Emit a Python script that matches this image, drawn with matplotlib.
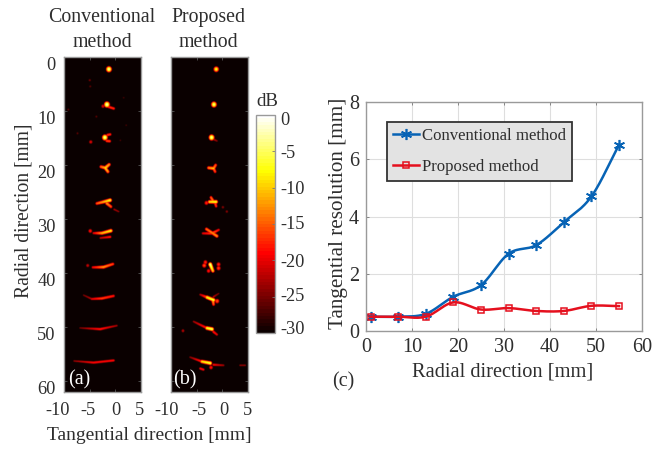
import numpy as np
import matplotlib
matplotlib.use("Agg")
import matplotlib.pyplot as plt
from matplotlib.transforms import ScaledTranslation

plt.rcParams['font.family'] = ['Liberation Serif', 'DejaVu Serif']
plt.rcParams['axes.unicode_minus'] = False

W, H = 668, 449
TXT = '#2e2e2e'
FRAME = '#9a9a9a'
FS = 13.2

# ---- data ----
radial = [1, 7, 13, 19, 25, 31, 37, 43, 49, 55]
res_conventional = [0.5, 0.5, 0.6, 1.2, 1.6, 2.7, 3.0, 3.8, 4.7, 6.5]
res_proposed = [0.5, 0.5, 0.5, 1.0, 0.75, 0.8, 0.7, 0.7, 0.88, 0.87]

# echo strokes: tangential0, radial0, tangential1, radial1, peak dB (start, end)
echo_conventional = [
    (-1.24, 2.22, -1.24, 2.22, (-3, -3)),
    (-1.63, 8.76, -1.63, 8.76, (-2, -2)), (-1.3, 9.2, -0.3, 9.5, (-17, -17)), (-2.4, 9.07, -2.4, 9.07, (-20, -20)),
    (-2.03, 14.87, -2.03, 14.87, (-3, -3)), (-1.5, 14.4, -1.0, 14.3, (-17, -17)), (-1.64, 15.5, -1.1, 15.55, (-16, -16)),
    (-4.8, 15.7, -4.8, 15.7, (-20, -20)),
    (-2.8, 20.3, -1.96, 20.5, (-14, -10)), (-1.96, 20.5, -1.2, 19.9, (-9, -12)), (-1.96, 20.5, -1.44, 21.2, (-9, -12)),
    (-3.6, 27.1, -1.0, 26.5, (-15, -7)), (-1.64, 27.1, -0.85, 27.7, (-12, -15)), (-0.2, 28.2, 0.65, 28.6, (-23, -24)),
    (-4.25, 32.6, -2.6, 32.6, (-20, -11)), (-2.6, 32.6, -0.85, 32.16, (-11, -8)), (-4.9, 32.2, -4.9, 32.2, (-18, -18)),
    (-2.9, 33.5, -1.0, 33.3, (-22, -18)),
    (-4.4, 38.95, -2.3, 38.9, (-19, -12)), (-2.3, 38.9, -0.46, 38.33, (-12, -16)), (-5.4, 38.6, -5.4, 38.6, (-21, -21)),
    (-4.6, 44.8, -2.6, 44.7, (-20, -16)), (-2.6, 44.7, -0.33, 44.25, (-16, -18)), (-6.2, 44.1, -4.6, 44.8, (-25, -22)),
    (-6.9, 50.18, -2.95, 50.4, (-25, -18)), (-2.95, 50.4, 0.3, 49.75, (-18, -23)),
    (-8.05, 56.3, -4.25, 56.6, (-24, -19)), (-4.25, 56.6, -0.33, 56.2, (-19, -19)),
    (-5.0, 4.25, -5.0, 4.25, (-25, -25)), (-4.9, 5.4, -4.9, 5.4, (-26, -26)), (-9.2, 9.7, -9.2, 9.7, (-26, -26)),
    (1.65, 7.5, 1.65, 7.5, (-27, -27)), (-7.4, 14.1, -7.4, 14.1, (-26, -26)), (-3.7, 11.0, -3.7, 11.0, (-26, -26)),
    (2.15, 12.6, 2.15, 12.6, (-27, -27)), (1.0, 15.4, 1.0, 15.4, (-27, -27)),
]
echo_proposed = [
    (-1.18, 2.22, -1.18, 2.22, (-7, -7)),
    (-1.63, 8.76, -1.63, 8.76, (-4, -4)),
    (-2.09, 14.87, -2.09, 14.87, (-3, -3)), (-1.7, 15.2, -1.05, 15.5, (-22, -24)),
    (-2.68, 20.5, -1.7, 20.6, (-13, -10)), (-1.7, 20.6, -1.3, 20.0, (-12, -15)), (-1.7, 20.6, -1.4, 21.2, (-13, -16)),
    (-2.5, 26.8, -1.2, 26.8, (-9, -7)), (-2.2, 26.0, -1.7, 26.8, (-15, -12)), (-3.1, 27.0, -3.1, 27.0, (-17, -17)),
    (-1.37, 27.1, -1.2, 27.6, (-16, -17)), (0.13, 27.8, 0.13, 27.8, (-24, -24)), (0.9, 28.6, 0.9, 28.6, (-24, -24)),
    (-3.1, 31.85, -1.05, 33.14, (-14, -12)), (-3.8, 32.65, -2.0, 32.65, (-20, -16)), (-1.7, 32.5, -0.7, 32.0, (-15, -19)),
    (-2.35, 38.4, -1.83, 39.6, (-3, -10)), (-3.53, 38.6, -3.53, 38.6, (-15, -15)), (-0.72, 38.4, -0.72, 38.4, (-17, -17)),
    (-0.72, 39.1, -0.72, 39.1, (-16, -16)), (-2.68, 39.6, -2.68, 39.6, (-18, -18)), (-3.3, 38.0, -3.3, 38.0, (-17, -17)),
    (-3.0, 44.5, -1.7, 45.0, (-8, -6)), (-1.83, 45.0, -1.7, 45.8, (-10, -15)), (-4.3, 44.0, -3.0, 44.5, (-22, -14)),
    (-1.0, 45.2, -1.0, 45.2, (-15, -15)), (-1.7, 44.4, -0.7, 43.8, (-22, -25)),
    (-3.0, 50.2, -2.0, 50.4, (-7, -5)), (-5.6, 49.0, -3.0, 50.2, (-23, -17)), (-1.7, 50.9, -1.05, 51.4, (-18, -20)),
    (-7.7, 50.7, -7.7, 50.7, (-22, -22)),
    (-4.0, 56.4, -2.35, 56.7, (-9, -6)), (-6.3, 55.6, -4.0, 56.4, (-24, -17)), (-1.7, 57.0, 0.25, 57.1, (-19, -23)),
    (-4.3, 57.7, -3.7, 57.9, (-19, -19)), (-2.2, 57.5, -2.2, 57.5, (-18, -18)), (3.5, 57.1, 4.5, 57.1, (-24, -24)),
    (-7.9, 58.2, -7.9, 58.2, (-27, -27)),
]

tang_ticks = [-10, -5, 0, 5]
rad_ticks = [0, 10, 20, 30, 40, 50, 60]
cbar_ticks = [0, -5, -10, -15, -20, -25, -30]


def rect(x0, y0, x1, y1):
    return [x0 / W, 1 - y1 / H, (x1 - x0) / W, (y1 - y0) / H]


def fx(x):
    return x / W


def fy(y):
    return 1 - y / H


def shift(label, fig, dx=0, dy=0):
    label.set_transform(label.get_transform() + ScaledTranslation(dx / fig.dpi, -dy / fig.dpi, fig.dpi_scale_trans))


def render(strokes, xlim=(-10, 5), ylim=(0, 62), step=0.1, k=120.0, k_dot=60.0):
    xs = np.arange(xlim[0], xlim[1] + step, step)
    ys = np.arange(ylim[0], ylim[1] + step, step)
    X, Y = np.meshgrid(xs, ys)
    img = np.full(X.shape, -30.0)
    for x0, y0, x1, y1, (p0, p1) in strokes:
        dx, dy = x1 - x0, y1 - y0
        L2 = dx * dx + dy * dy
        t = np.zeros_like(X) if L2 == 0 else np.clip(((X - x0) * dx + (Y - y0) * dy) / L2, 0, 1)
        d2 = (X - x0 - t * dx) ** 2 + (Y - y0 - t * dy) ** 2
        img = np.maximum(img, p0 + (p1 - p0) * t - (k_dot if L2 == 0 else k) * d2)
    return img


def smooth(x, y, n=24):
    # Catmull-Rom curve through the read points; returns marker indices too
    x = np.asarray(x, float)
    y = np.asarray(y, float)
    px = np.r_[2 * x[0] - x[1], x, 2 * x[-1] - x[-2]]
    py = np.r_[2 * y[0] - y[1], y, 2 * y[-1] - y[-2]]
    ox, oy = [], []
    for i in range(1, len(px) - 2):
        for u in np.linspace(0, 1, n, endpoint=False):
            for arr, out in ((px, ox), (py, oy)):
                a, b, c, d = arr[i - 1:i + 3]
                out.append(0.5 * (2 * b + (c - a) * u + (2 * a - 5 * b + 4 * c - d) * u ** 2
                                  + (3 * b - a - 3 * c + d) * u ** 3))
    ox.append(x[-1])
    oy.append(y[-1])
    return np.array(ox), np.array(oy), list(range(0, len(ox), n))


fig = plt.figure(figsize=(W / 100, H / 100), dpi=100)
cmap = plt.get_cmap('hot', 64)

# ---- image panels ----
xtick_shift = [[-6, -1.5, 1, -1], [-4, 2.5, 2, -0.5]]
for k, (x0, strokes, tag) in enumerate(((64, echo_conventional, '(a)'), (171, echo_proposed, '(b)'))):
    ax = fig.add_axes(rect(x0, 57, x0 + 76.5, 392))
    im = ax.imshow(render(strokes), cmap=cmap, vmin=-30, vmax=0, extent=(-10, 5, 62, 0),
                   aspect='auto', interpolation='bilinear')
    ax.set_xticks(tang_ticks)
    ax.set_yticks(rad_ticks)
    ax.tick_params(direction='in', length=2.5, width=0.6, color='#555555',
                   top=True, right=True, labelsize=FS, labelcolor=TXT, pad=7)
    ax.tick_params(axis='y', pad=6)
    if k == 1:
        ax.set_yticklabels([])
    else:
        for lab in ax.get_yticklabels():
            shift(lab, fig, 0, 6)
    for lab, dx in zip(ax.get_xticklabels(), xtick_shift[k]):
        shift(lab, fig, dx, 0)
    for s in ax.spines.values():
        s.set_color(FRAME)
        s.set_linewidth(1.0)
    fig.text(fx(x0 + 15 if k == 0 else x0 + 14), fy(380), tag, color='white', fontsize=14.5,
             ha='center', va='center')

fig.text(fx(102), fy(30), 'Conventional\nmethod', ha='center', va='center', fontsize=14.3,
         color=TXT, linespacing=1.37)
fig.text(fx(208), fy(30), 'Proposed\nmethod', ha='center', va='center', fontsize=14.3,
         color=TXT, linespacing=1.37)
fig.text(fx(149), fy(436), 'Tangential direction [mm]', ha='center', va='center', fontsize=14, color=TXT)
fig.text(fx(24), fy(211), 'Radial direction [mm]', ha='center', va='center', rotation=90,
         fontsize=14.1, color=TXT)

# ---- colour bar ----
cax = fig.add_axes(rect(256, 115, 275, 333))
cb = fig.colorbar(im, cax=cax, ticks=cbar_ticks)
cb.ax.tick_params(direction='in', length=2.5, width=0.6, color='#777777', labelsize=FS, labelcolor=TXT, pad=4)
cb.outline.set_edgecolor(FRAME)
cb.outline.set_linewidth(1.0)
for lab, dy in zip(cb.ax.get_yticklabels(), [3, 0, 0, -2, 0, -2, -5]):
    shift(lab, fig, 0, dy)
fig.text(fx(267), fy(102), 'dB', ha='center', va='center', fontsize=13.6, color=TXT)

# ---- resolution panel ----
ax = fig.add_axes(rect(366, 102, 642, 331))
xb, yb, mb = smooth(radial, res_conventional)
xr, yr, mr = smooth(radial, res_proposed)
ax.plot(xb, yb, color='#0763B5', lw=1.8, marker=(6, 2, 0), ms=8, mew=1.2, markevery=mb,
        label='Conventional method')
ax.plot(xr, yr, color='#E5101E', lw=1.8, marker='s', ms=4.8, mew=1.1, mfc='none', markevery=mr,
        label='Proposed method')
ax.set_xlim(0, 60)
ax.set_ylim(0, 8)
ax.set_xticks(range(0, 61, 10))
ax.set_yticks(range(0, 9, 2))
ax.grid(True, color='#dedede', lw=0.8)
ax.set_axisbelow(True)
ax.tick_params(direction='in', length=2.5, width=0.6, color='#777777', top=True, right=True,
               labelsize=14.5, labelcolor=TXT, pad=5)
for s in ax.spines.values():
    s.set_color(FRAME)
    s.set_linewidth(1.0)
leg = ax.legend(loc='upper left', bbox_to_anchor=((387 - 366) / 276, (331 - 122) / 229), borderaxespad=0,
                fontsize=12.1, frameon=True, fancybox=False, facecolor='#e3e3e3', edgecolor='#333333',
                framealpha=1, labelcolor=TXT, handlelength=1.55, handletextpad=0.15, labelspacing=0.9,
                borderpad=0.36)
leg.get_frame().set_linewidth(1.3)
fig.text(fx(503), fy(372), 'Radial direction [mm]', ha='center', va='center', fontsize=14.7, color=TXT)
fig.text(fx(338), fy(213), 'Tangential resolution [mm]', ha='center', va='center', rotation=90,
         fontsize=15.2, color=TXT)
fig.text(fx(343), fy(382), '(c)', ha='center', va='center', fontsize=14.5, color=TXT)

fig.savefig('out.png', dpi=100)
